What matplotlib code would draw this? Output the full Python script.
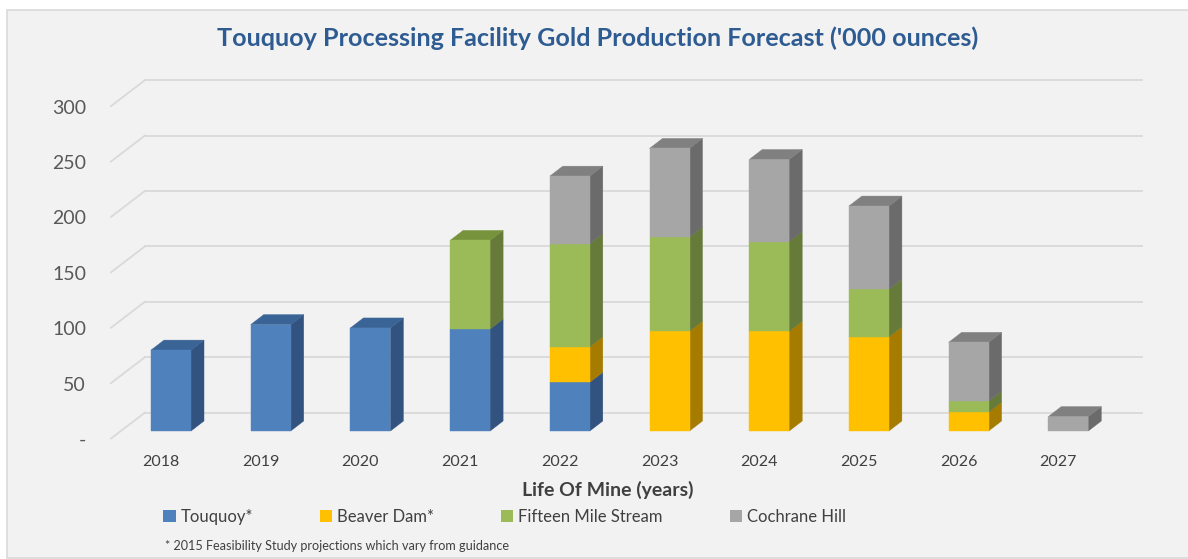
import matplotlib
matplotlib.use("Agg")
import matplotlib.pyplot as plt
from matplotlib.patches import Polygon, Rectangle, Patch

# ---------------- data ----------------
years = ["2018", "2019", "2020", "2021", "2022", "2023", "2024", "2025", "2026", "2027"]
touquoy = [73, 96, 93, 92, 44, 0, 0, 0, 0, 0]
beaver_dam = [0, 0, 0, 0, 32, 90, 90, 85, 17, 0]
fifteen_mile = [0, 0, 0, 80, 93, 85, 81, 43, 10, 0]
cochrane_hill = [0, 0, 0, 0, 61, 80, 74, 75, 53, 13]
series_names = ["Touquoy*", "Beaver Dam*", "Fifteen Mile Stream", "Cochrane Hill"]
y_ticks = [0, 50, 100, 150, 200, 250, 300]
y_tick_labels = ["-", "50", "100", "150", "200", "250", "300"]

series = [touquoy, beaver_dam, fifteen_mile, cochrane_hill]
front_cols = ["#4F81BD", "#FFC000", "#9BBB59", "#A6A6A6"]
side_cols = ["#325380", "#A67C00", "#667A3A", "#6B6B6B"]
top_cols = ["#3B6496", "#C79600", "#77933C", "#808080"]

W, H = 1188, 559
fig = plt.figure(figsize=(W / 100, H / 100), dpi=100)
fig.patch.set_facecolor("white")
# chart background panel
fig.patches.append(Rectangle((7 / W, 1.5 / H), (W - 4) / W, (557 - 8 - 1.5) / H,
                             transform=fig.transFigure, facecolor="#F2F2F2",
                             edgecolor="#D9D9D9", linewidth=1.2, zorder=-5))

# axes mapped so that 1 category = 99.7 px, 1 unit = 1.108 px
PX_X, PX_Y = 99.7, 1.108
X0, Y0 = 171, 431
ax = fig.add_axes([0, 0, 1, 1], zorder=2)
ax.set_xlim(-X0 / PX_X, (W - X0) / PX_X)
ax.set_ylim((Y0 - H) / PX_Y, Y0 / PX_Y)
ax.axis("off")

# 3D oblique geometry (in data units)
bar_w = 40 / PX_X
bdx, bdy = 13 / PX_X, 10 / PX_Y          # bar depth
fdx, fdy = -9 / PX_X, -7.5 / PX_Y        # front plane relative to bar fronts
wdx, wdy = 25 / PX_X, 18.5 / PX_Y        # back wall relative to bar fronts
wall_left = (145 - X0) / PX_X
wall_right = (1142 - X0) / PX_X

grid_col = "#D9D9D9"
for v in y_ticks:
    ax.plot([wall_left - (wdx - fdx), wall_left], [v + fdy, v + wdy], color=grid_col, lw=1.3, zorder=1)
    ax.plot([wall_left, wall_right], [v + wdy, v + wdy], color=grid_col, lw=1.3, zorder=1)

# bars
n = len(years)
for i in range(n):
    xl, xr = i - bar_w / 2, i + bar_w / 2
    bottom = 0
    top_idx = max(k for k in range(4) if series[k][i] > 0)
    for k in range(4):
        v = series[k][i]
        if v <= 0:
            continue
        y0, y1 = bottom, bottom + v
        ax.bar(i, v, width=bar_w, bottom=y0, color=front_cols[k],
               edgecolor=front_cols[k], linewidth=0.3, zorder=3)
        ax.add_patch(Polygon([(xr, y0), (xr + bdx, y0 + bdy), (xr + bdx, y1 + bdy), (xr, y1)],
                             closed=True, facecolor=side_cols[k], edgecolor=side_cols[k],
                             linewidth=0.3, zorder=2))
        if k == top_idx:
            ax.add_patch(Polygon([(xl, y1), (xl + bdx, y1 + bdy), (xr + bdx, y1 + bdy), (xr, y1)],
                                 closed=True, facecolor=top_cols[k], edgecolor=top_cols[k],
                                 linewidth=0.3, zorder=2))
        bottom = y1

FONT = "Lato"
# y tick labels on the front plane
for v, lab in zip(y_ticks, y_tick_labels):
    ax.text((86 - X0) / PX_X, v + fdy - 2 / PX_Y, lab, ha="right", va="center",
            fontsize=14, color="#595959", family=FONT)
# category labels
for i, lab in enumerate(years):
    ax.text(i - 0.1, (Y0 - 462) / PX_Y, lab, ha="center", va="center",
            fontsize=11.5, color="#404040", family=FONT)

# title and axis title
fig.text(598 / W, 1 - 38 / H, "Touquoy Processing Facility Gold Production Forecast ('000 ounces)",
         ha="center", va="center", fontsize=18.1, fontweight="bold", color="#2E5C92", family=FONT)
fig.text(608 / W, 1 - 490 / H, "Life Of Mine (years)", ha="center", va="center",
         fontsize=14, fontweight="bold", color="#404040", family=FONT)

# legend
handles = [Patch(facecolor=c, edgecolor="none") for c in front_cols]
leg = fig.legend(handles, series_names, loc="center left", bbox_to_anchor=(148 / W, 1 - 517 / H),
                 ncol=4, frameon=False, handlelength=0.75, handleheight=0.75, handletextpad=0.3,
                 columnspacing=4.0, prop={"family": FONT, "size": 12})
for t in leg.get_texts():
    t.set_color("#404040")

fig.text(165 / W, 1 - 546 / H, "* 2015 Feasibility Study projections which vary from guidance",
         ha="left", va="center", fontsize=9.05, color="#404040", family=FONT)

fig.savefig("out.png", dpi=100, facecolor=fig.get_facecolor())
